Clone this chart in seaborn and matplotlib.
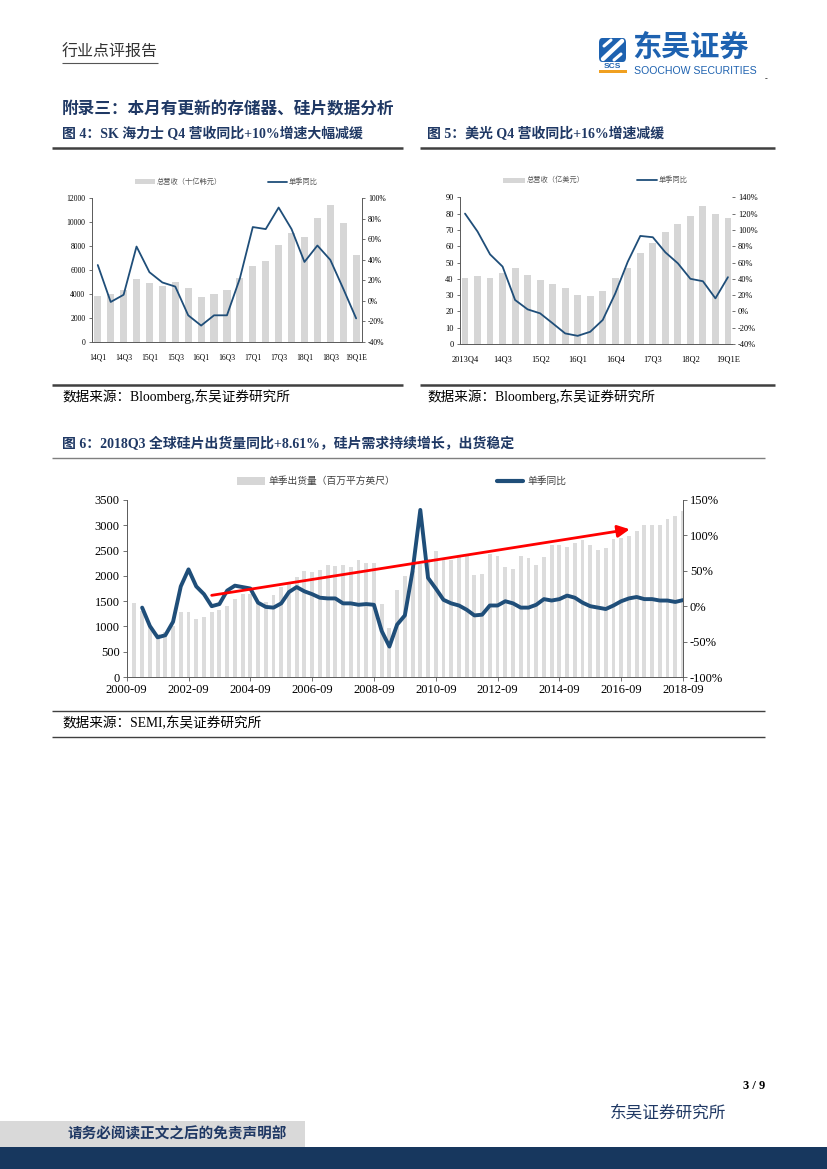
import numpy as np
import matplotlib
matplotlib.use('Agg')
import matplotlib.pyplot as plt
import seaborn as sns
from matplotlib.lines import Line2D
from matplotlib.patches import Rectangle, FancyBboxPatch

# ---------------- data ----------------
sk_quarters = ['14Q1', '14Q2', '14Q3', '14Q4', '15Q1', '15Q2', '15Q3', '15Q4',
               '16Q1', '16Q2', '16Q3', '16Q4', '17Q1', '17Q2', '17Q3', '17Q4',
               '18Q1', '18Q2', '18Q3', '18Q4', '19Q1E']
sk_revenue = [3840, 3980, 4340, 5250, 4950, 4700, 5000, 4500, 3750, 4000, 4340,
              5310, 6340, 6750, 8090, 9120, 8790, 10370, 11430, 9950, 7260]
sk_yoy = [35, -1, 6, 53, 28, 18, 14, -14, -24, -14, -14, 22, 72, 70, 91, 70,
          38, 54, 40, 12, -17]

mu_quarters = ['2013Q4', '14Q1', '14Q2', '14Q3', '14Q4', '15Q1', '15Q2', '15Q3',
               '15Q4', '16Q1', '16Q2', '16Q3', '16Q4', '17Q1', '17Q2', '17Q3',
               '17Q4', '18Q1', '18Q2', '18Q3', '18Q4', '19Q1E']
mu_revenue = [40.3, 41.7, 40.3, 43.4, 46.4, 42.3, 39.3, 36.8, 34.2, 30.1, 29.4,
              32.5, 40.3, 46.8, 55.6, 61.8, 68.5, 73.4, 78.5, 84.7, 79.5, 77.3]
mu_yoy = [120, 98, 70, 55, 14, 2.5, -2.4, -14.6, -27, -30, -25, -10.5, 22, 61,
          92.6, 91, 72.5, 59, 40, 37, 16, 42]

# SEMI silicon wafer area shipments, quarterly 2000-12 .. 2018-09
wafer_ship = [1456, 1300, 1010, 850, 880, 1000, 1290, 1290, 1150, 1190, 1290, 1320,
              1400, 1550, 1640, 1650, 1470, 1480, 1630, 1775, 1830, 1980, 2090, 2080,
              2110, 2220, 2200, 2210, 2180, 2320, 2260, 2250, 1450, 966, 1714, 2005,
              2100, 2230, 2340, 2500, 2323, 2310, 2376, 2389, 2025, 2045, 2442, 2402,
              2177, 2138, 2402, 2356, 2224, 2376, 2601, 2614, 2574, 2654, 2713, 2601,
              2521, 2554, 2720, 2746, 2786, 2885, 2998, 3011, 2998, 3117, 3183, 3283]
# YoY line, 2001-03 .. 2018-09
wafer_yoy = [-2, -28, -44, -41, -22, 28, 52, 28, 17, 0, 3, 22, 29, 27, 25, 5, -1,
             -2, 4, 20, 27, 21, 17, 12, 11, 11, 4, 4, 2, 3, 2, -35, -57, -26, -13,
             50, 136, 40, 25, 9, 4, 1, -5, -13, -12, 1, 1, 7, 4, -2, -2, 2, 10, 8,
             10, 15, 12, 5, 0, -2, -4, 1, 7, 11, 13, 10, 10, 8, 8, 6, 8.6]
wafer_ticks = ['2000-09', '2002-09', '2004-09', '2006-09', '2008-09', '2010-09',
               '2012-09', '2014-09', '2016-09', '2018-09']

# ---------------- style ----------------
sns.set_theme(style='white')
SERIF = ['Liberation Serif', 'Noto Sans CJK SC', 'DejaVu Sans']
CJK = ['Noto Sans CJK SC', 'DejaVu Sans']
plt.rcParams['font.family'] = SERIF
plt.rcParams['axes.unicode_minus'] = False

NAVY = '#1F3864'
LINE = '#1F4E79'
BAR = '#D6D6D6'
SPINE = '#595959'

W, H = 827, 1169
fig = plt.figure(figsize=(W / 100, H / 100), dpi=100)


def fx(x):
    return x / W


def fy(y):
    return 1 - y / H


def ftext(x, y, s, size, color='#000000', weight='normal', ha='left', va='center', family=None):
    fig.text(fx(x), fy(y), s, fontsize=size, color=color, fontweight=weight,
             ha=ha, va=va, family=family or SERIF)


def hline(x0, x1, y, lw=1.0, color='#000000'):
    fig.add_artist(Line2D([fx(x0), fx(x1)], [fy(y), fy(y)], transform=fig.transFigure,
                          lw=lw, color=color, solid_capstyle='butt'))


def frect(x0, y0, x1, y1, color):
    fig.add_artist(Rectangle((fx(x0), fy(y1)), fx(x1) - fx(x0), (y1 - y0) / H,
                             transform=fig.transFigure, color=color, lw=0))


def add_axes(left, top, right, bottom):
    return fig.add_axes([fx(left), fy(bottom), fx(right) - fx(left), (bottom - top) / H])


def legend_items(y, px0, px1, ptext, ph, lx0, lx1, ltext, lw, size, color, bar_text, line_text):
    frect(px0, y - ph / 2, px1, y + ph / 2, BAR)
    ftext(ptext, y, bar_text, size, color=color, family=CJK)
    fig.add_artist(Line2D([fx(lx0), fx(lx1)], [fy(y), fy(y)], transform=fig.transFigure,
                          lw=lw, color=LINE))
    ftext(ltext, y, line_text, size, color=color, family=CJK)


def style_axes(ax, ax2, size, right_spine=True):
    for s in ['top']:
        ax.spines[s].set_visible(False)
        ax2.spines[s].set_visible(False)
    for s in ['left', 'bottom', 'right']:
        ax.spines[s].set_color(SPINE)
        ax.spines[s].set_linewidth(0.7)
        ax2.spines[s].set_color(SPINE)
        ax2.spines[s].set_linewidth(0.7)
    ax2.spines['left'].set_visible(False)
    ax2.spines['bottom'].set_visible(False)
    ax.spines['right'].set_visible(False)
    ax2.spines['right'].set_visible(right_spine)
    ax.tick_params(axis='y', left=True, length=2.5, width=0.6, color=SPINE, pad=2,
                   labelsize=size, labelcolor='#000000')
    ax2.tick_params(axis='y', right=True, length=2.5, width=0.6, color=SPINE, pad=2,
                    labelsize=size, labelcolor='#000000')
    ax.tick_params(axis='x', bottom=False, pad=2, labelsize=size, labelcolor='#000000')
    ax.grid(False)
    ax2.grid(False)
    ax.set_xlabel('')
    ax.set_ylabel('')
    ax2.set_xlabel('')
    ax2.set_ylabel('')
    ax.set_zorder(1)
    ax2.set_zorder(2)
    ax2.patch.set_visible(False)


# ---------------- header ----------------
ftext(62, 52, '行业点评报告', 11.5, color='#333333', family=CJK)
hline(62, 158, 63, lw=0.8, color='#555555')

# logo
LOGO = '#1E62B0'
fig.add_artist(FancyBboxPatch((fx(599), fy(62)), fx(27), 24 / H,
                              boxstyle='round,pad=0,rounding_size=0.004',
                              transform=fig.transFigure, color=LOGO, lw=0))
fig.add_artist(Line2D([fx(603), fx(622)], [fy(59), fy(41)], transform=fig.transFigure,
                      lw=3.2, color='white'))
fig.add_artist(Line2D([fx(604), fx(611)], [fy(46), fy(40)], transform=fig.transFigure,
                      lw=2.2, color='white'))
fig.add_artist(Line2D([fx(614), fx(621)], [fy(60), fy(54)], transform=fig.transFigure,
                      lw=2.2, color='white'))
ftext(612.5, 66.5, 'SCS', 6, color=LOGO, weight='bold', ha='center',
      family=['Liberation Sans', 'DejaVu Sans'])
frect(599, 70, 627, 72.5, '#F0A020')
ftext(632, 47, '东吴证券', 21, color=LOGO, weight='bold', family=CJK)
ftext(634, 70.5, 'SOOCHOW SECURITIES', 7.6, color=LOGO, family=['Liberation Sans', 'DejaVu Sans'])
ftext(765, 79, '-', 6, color='#000000')

# ---------------- section titles ----------------
ftext(62, 110, '附录三：本月有更新的存储器、硅片数据分析', 12, color=NAVY, weight='bold')
ftext(62, 134, '图 4：SK 海力士 Q4 营收同比+10%增速大幅减缓', 10, color=NAVY, weight='bold')
ftext(427, 134, '图 5：美光 Q4 营收同比+16%增速减缓', 10, color=NAVY, weight='bold')
hline(52, 403, 148, lw=1.8, color='#404040')
hline(420, 775, 148, lw=1.8, color='#404040')

# ---------------- chart 4 : SK Hynix ----------------
x4 = np.arange(len(sk_quarters))
ax4 = add_axes(91.7, 198.3, 361.7, 342)
sns.barplot(x=x4, y=sk_revenue, ax=ax4, color=BAR, saturation=1, width=0.55,
            native_scale=True, edgecolor='none')
ax4b = ax4.twinx()
sns.lineplot(x=x4, y=sk_yoy, ax=ax4b, color=LINE, lw=1.3)
ax4.set_ylim(0, 12000)
ax4.set_yticks(range(0, 12001, 2000))
ax4.set_yticklabels([str(v) for v in range(0, 12001, 2000)])
ax4b.set_ylim(-40, 100)
ax4b.set_yticks(range(-40, 101, 20))
ax4b.set_yticklabels([f'{v}%' for v in range(-40, 101, 20)])
ax4.set_xlim(-0.47, 20.43)
ax4.set_xticks(x4[::2])
ax4.set_xticklabels(sk_quarters[::2])
style_axes(ax4, ax4b, 5.5, right_spine=True)
legend_items(181.7, 135, 155, 157, 5, 268, 287, 289, 1.3, 5.2, '#595959',
             '总营收（十亿韩元）', '单季同比')

# ---------------- chart 5 : Micron ----------------
x5 = np.arange(len(mu_quarters))
ax5 = add_axes(460, 197.3, 731.7, 344)
sns.barplot(x=x5, y=mu_revenue, ax=ax5, color=BAR, saturation=1, width=0.55,
            native_scale=True, edgecolor='none')
ax5b = ax5.twinx()
sns.lineplot(x=x5, y=mu_yoy, ax=ax5b, color=LINE, lw=1.3)
ax5.set_ylim(0, 90)
ax5.set_yticks(range(0, 91, 10))
ax5.set_yticklabels([str(v) for v in range(0, 91, 10)])
ax5b.set_ylim(-40, 140)
ax5b.set_yticks(range(-40, 141, 20))
ax5b.set_yticklabels([f'{v}%' for v in range(-40, 141, 20)])
ax5.set_xlim(-0.4, 21.3)
ax5.set_xticks(x5[::3])
ax5.set_xticklabels(mu_quarters[::3])
style_axes(ax5, ax5b, 6, right_spine=False)
legend_items(180, 503, 525, 527, 5, 637, 657, 659, 1.3, 5.2, '#595959',
             '总营收（亿美元）', '单季同比')

# ---------------- sources ----------------
hline(52, 403, 385, lw=1.8, color='#404040')
hline(420, 775, 385, lw=1.8, color='#404040')
ftext(62, 397, '数据来源：Bloomberg,东吴证券研究所', 9.8, color='#000000')
ftext(427, 397, '数据来源：Bloomberg,东吴证券研究所', 9.8, color='#000000')

# ---------------- chart 6 : silicon wafers ----------------
ftext(62, 444, '图 6：2018Q3 全球硅片出货量同比+8.61%，硅片需求持续增长，出货稳定', 10,
      color=NAVY, weight='bold')
hline(52, 765, 458, lw=1.0, color='#7F7F7F')

x6 = np.arange(1, len(wafer_ship) + 1)
x6l = np.arange(len(wafer_ship) - len(wafer_yoy) + 1, len(wafer_ship) + 1)
ax6 = add_axes(126.7, 500, 683, 677)
sns.barplot(x=x6, y=wafer_ship, ax=ax6, color='#DCDCDC', saturation=1, width=0.5,
            native_scale=True, edgecolor='none')
ax6b = ax6.twinx()
sns.lineplot(x=x6l, y=wafer_yoy, ax=ax6b, color=LINE, lw=2.8)
ax6.set_ylim(0, 3500)
ax6.set_yticks(range(0, 3501, 500))
ax6.set_yticklabels([str(v) for v in range(0, 3501, 500)])
ax6b.set_ylim(-100, 150)
ax6b.set_yticks(range(-100, 151, 50))
ax6b.set_yticklabels([f'{v}%' for v in range(-100, 151, 50)])
ax6.set_xlim(0, 72)
ax6.set_xticks(np.arange(0, 73, 8))
ax6.set_xticklabels(wafer_ticks)
style_axes(ax6, ax6b, 9, right_spine=True)
ax6.tick_params(axis='x', bottom=True, length=3, width=0.6, color=SPINE, pad=2)
ax6.tick_params(axis='y', length=3)
ax6b.tick_params(axis='y', length=3)
ax6b.annotate('', xy=(65.1, 2921), xytext=(11.0, 1615), xycoords=ax6.transData,
              textcoords=ax6.transData,
              arrowprops=dict(arrowstyle='-|>,head_length=0.6,head_width=0.3',
                              color='#FF0000', lw=2.0, shrinkA=0, shrinkB=0))
legend_items(481, 237, 265, 268, 8, 497, 523, 527, 3, 7, '#404040',
             '单季出货量（百万平方英尺）', '单季同比')

hline(52, 765, 711, lw=1.0, color='#404040')
ftext(62, 723, '数据来源：SEMI,东吴证券研究所', 9.8, color='#000000')
hline(52, 765, 737, lw=1.0, color='#404040')

# ---------------- footer ----------------
ftext(765, 1086, '3 / 9', 9, color='#000000', weight='bold', ha='right')
ftext(610, 1114, '东吴证券研究所', 12, color=NAVY)
frect(0, 1121, 305, 1147, '#D9D9D9')
frect(0, 1147, 827, 1169, '#17375E')
ftext(68, 1134, '请务必阅读正文之后的免责声明部', 10.5, color=NAVY, weight='bold')

fig.savefig('out.png', dpi=100)
